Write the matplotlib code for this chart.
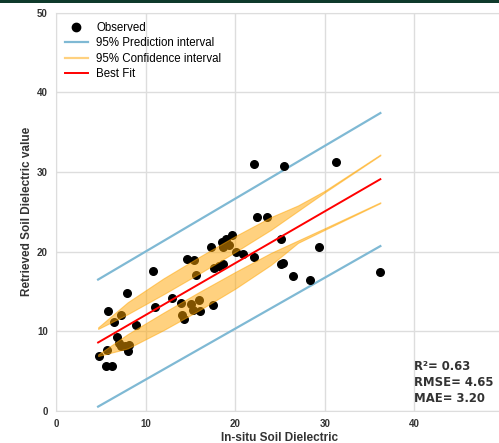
import matplotlib.pyplot as plt
from matplotlib.lines import Line2D
from matplotlib.patches import Rectangle

# observed points (in-situ vs retrieved)
obs_x = [4.8, 5.7, 5.55, 6.25, 5.8, 6.45, 7.2, 7.9, 6.8, 7.0, 7.3, 7.7, 8.1, 8.0,
         8.95, 10.8, 11.05, 13.0, 14.0, 14.1, 14.3, 14.6, 15.4, 15.25, 16.1, 16.0,
         15.1, 15.6, 17.5, 17.3, 17.6, 18.2, 18.6, 18.5, 19.0, 19.6, 18.6, 19.3,
         20.1, 20.9, 22.1, 22.1, 22.4, 23.5, 25.1, 25.4, 25.1, 25.3, 26.4, 28.4,
         29.35, 31.3, 36.2]
obs_y = [6.9, 7.7, 5.7, 5.7, 12.6, 11.2, 12.1, 14.8, 9.25, 8.5, 8.2, 8.1, 8.3, 7.5,
         10.8, 17.6, 13.1, 14.2, 13.5, 12.0, 11.6, 19.05, 19.0, 12.7, 12.5, 13.9,
         13.4, 17.1, 13.3, 20.6, 18.0, 18.2, 18.5, 21.2, 21.6, 22.1, 20.6, 20.8,
         20.0, 19.7, 19.3, 31.0, 24.3, 24.3, 21.6, 30.7, 18.4, 18.6, 16.9, 16.4,
         20.6, 31.2, 17.5]

# regression line and prediction interval (end points)
line_x = [4.7, 36.2]
fit_y = [8.6, 29.1]
pi_upper = [16.5, 37.4]
pi_lower = [0.55, 20.7]

# confidence interval bands (outer / inner edge of each band)
ci_x = [4.7, 8, 12, 16, 20, 24, 27, 30, 36.2]
ci_up_outer = [10.5, 13.65, 16.65, 19.35, 21.95, 24.35, 25.8, 27.65, 32.2]
ci_up_inner = [10.3, 12.15, 14.65, 17.25, 19.95, 22.75, 25.1, 27.45, 32.1]
ci_lo_inner = [7.1, 9.65, 12.35, 14.95, 17.45, 19.85, 21.4, 22.95, 26.2]
ci_lo_outer = [6.9, 7.85, 10.15, 12.65, 15.35, 18.35, 21.1, 22.75, 26.1]

stats = ['R²= 0.63', 'RMSE= 4.65', 'MAE= 3.20']

pi_color = '#7fb9d4'
ci_color = 'orange'
text_color = '#333333'

plt.rcParams['font.family'] = ['Liberation Sans', 'DejaVu Sans']

fig = plt.figure(figsize=(4.99, 4.43), dpi=100)
fig.patch.set_facecolor('white')
fig.patches.append(Rectangle((0, 1 - 2.5 / 443), 1, 2.5 / 443, transform=fig.transFigure,
                             facecolor='#0f3a2b', edgecolor='none'))

ax = fig.add_axes([56 / 499, 32 / 443, 448 / 499, 398.3 / 443])

ax.scatter(obs_x, obs_y, s=30, color='black', zorder=3)
ax.plot(line_x, pi_upper, color=pi_color, lw=1.6, zorder=2)
ax.plot(line_x, pi_lower, color=pi_color, lw=1.6, zorder=2)
ax.fill_between(ci_x, ci_up_inner, ci_up_outer, color=ci_color, alpha=0.5, lw=0.8,
                edgecolor=ci_color, zorder=4)
ax.fill_between(ci_x, ci_lo_outer, ci_lo_inner, color=ci_color, alpha=0.5, lw=0.8,
                edgecolor=ci_color, zorder=4)
ax.plot(line_x, fit_y, color='red', lw=1.4, zorder=5)

ax.set_xlim(0, 50)
ax.set_ylim(0, 50)
ax.set_xticks([0, 10, 20, 30, 40])
ax.set_yticks([0, 10, 20, 30, 40, 50])
ax.grid(color='#dddddd', lw=1)
ax.set_axisbelow(True)
for s in ax.spines.values():
    s.set_color('#dddddd')
ax.tick_params(length=0, pad=6, labelsize=7, labelcolor=text_color)
for lab in ax.get_xticklabels() + ax.get_yticklabels():
    lab.set_fontweight('bold')

ax.set_xlabel('In-situ Soil Dielectric', fontsize=8.5, fontweight='bold', color=text_color, labelpad=2)
ax.set_ylabel('Retrieved Soil Dielectric value', fontsize=8.5, fontweight='bold', color=text_color, labelpad=3)

handles = [Line2D([], [], ls='none', marker='o', ms=6, color='black'),
           Line2D([], [], color=pi_color, lw=1.6),
           Line2D([], [], color=ci_color, alpha=0.5, lw=1.6),
           Line2D([], [], color='red', lw=1.4)]
labels = ['Observed', '95% Prediction interval', '95% Confidence interval', 'Best Fit']
ax.legend(handles, labels, loc='upper left', bbox_to_anchor=(0.02, 0.977), frameon=False,
          fontsize=8.3, borderaxespad=0, borderpad=0, handlelength=2.0, handletextpad=0.7,
          labelspacing=0.3)

for i, t in enumerate(stats):
    ax.text(40.0, 5.6 - i * 2.0, t, fontsize=8.4, fontweight='bold', color=text_color,
            family='DejaVu Sans', va='center', ha='left')

plt.savefig('out.png', dpi=100)
